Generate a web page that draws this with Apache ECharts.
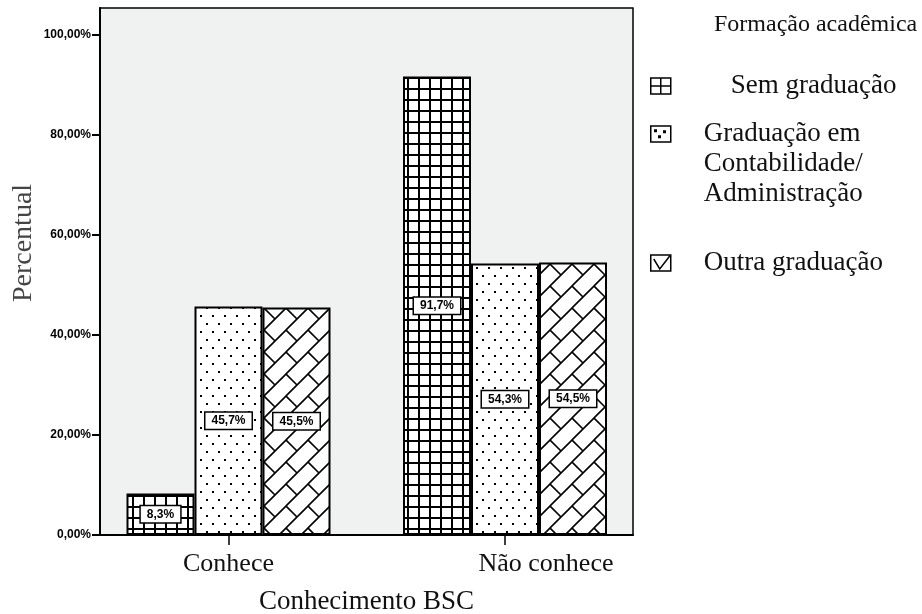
<!DOCTYPE html>
<html>
<head>
<meta charset="utf-8">
<script src="https://cdn.jsdelivr.net/npm/echarts@6/dist/echarts.min.js"></script>
<style>html,body{margin:0;padding:0;background:#fff;}#chart{width:922px;height:614px;}</style>
</head>
<body>
<div id="chart"></div>
<script>
const categories = ['Conhece', 'Não conhece'];
const seriesNames = ['Sem graduação', 'Graduação em\nContabilidade/\nAdministração', 'Outra graduação'];
const semGraduacao = [8.3, 91.7];
const graduacaoContAdm = [45.7, 54.3];
const outraGraduacao = [45.5, 54.5];
const yTicks = [0, 20, 40, 60, 80, 100];
const legendTitle = 'Formação acadêmica';
const xAxisName = 'Conhecimento BSC';
const yAxisName = 'Percentual';

function makeCanvas(w, h) {
  const c = document.createElement('canvas');
  c.width = w; c.height = h;
  const g = c.getContext('2d');
  g.fillStyle = '#fff'; g.fillRect(0, 0, w, h);
  return [c, g];
}
function gridPattern() {
  const [c, g] = makeCanvas(11, 11);
  g.fillStyle = '#000';
  g.fillRect(0, 0, 2, 11);
  g.fillRect(0, 0, 11, 2);
  return c;
}
function dotPattern() {
  const [c, g] = makeCanvas(12, 16);
  g.fillStyle = '#000';
  g.fillRect(2, 3, 2, 2);
  g.fillRect(8, 11, 2, 2);
  return c;
}
function brickPattern() {
  const s = 22;
  const [c, g] = makeCanvas(s, s);
  g.strokeStyle = '#000'; g.lineWidth = 1.6;
  g.beginPath();
  g.moveTo(0, s); g.lineTo(s, 0);
  g.moveTo(-2, 2); g.lineTo(2, -2);
  g.moveTo(s - 2, s + 2); g.lineTo(s + 2, s - 2);
  g.moveTo(0, 0); g.lineTo(s / 2, s / 2);
  g.stroke();
  return c;
}
const patterns = [gridPattern(), dotPattern(), brickPattern()];
const seriesData = [semGraduacao, graduacaoContAdm, outraGraduacao];

const fmtPct1 = v => v.toFixed(1).replace('.', ',') + '%';
const fmtPct2 = v => v.toFixed(2).replace('.', ',') + '%';

const serif = "'Liberation Serif', 'DejaVu Serif', serif";
const sans = "'Liberation Sans', Arial, sans-serif";

const chart = echarts.init(document.getElementById('chart'), null, {renderer: 'canvas'});

const series = seriesNames.map((name, i) => ({
  name: name,
  type: 'bar',
  xAxisIndex: 1,
  yAxisIndex: 1,
  barWidth: 68,
  barGap: '0%',
  data: seriesData[i],
  itemStyle: {
    color: {image: patterns[i], repeat: 'repeat'},
    borderColor: '#000',
    borderWidth: 2
  },
  label: {
    show: true,
    position: 'inside',
    formatter: p => fmtPct1(p.value),
    fontFamily: sans,
    fontWeight: 'bold',
    fontSize: 12,
    color: '#000',
    backgroundColor: '#fff',
    borderColor: '#000',
    borderWidth: 1.5,
    padding: [2, 6]
  },
  emphasis: {disabled: true}
}));

const iconPaths = [
  'path://M0,0H20V16H0Z M10,0V16 M0,8H20',
  'path://M0,0H20V16H0Z M4,4h1.5v1.5h-1.5z M13,5h1.5v1.5h-1.5z M8,10h1.5v1.5h-1.5z',
  'path://M0,0H20V16H0Z M3,4L9,14L19,1'
];
const legendTops = [71, 59, 248];
const legendPadLeft = [55, 28, 28];
const legendFormatters = [n => n, n => '\n\n' + n, n => n];
const legends = seriesNames.map((name, i) => ({
  orient: 'vertical',
  left: 650,
  top: legendTops[i],
  padding: 0,
  itemWidth: 20,
  itemHeight: 16,
  itemGap: 0,
  selectedMode: false,
  formatter: legendFormatters[i],
  data: [{
    name: name,
    icon: iconPaths[i],
    itemStyle: {color: '#fff', borderColor: '#000', borderWidth: 1.5, decal: 'none'}
  }],
  textStyle: {fontFamily: serif, fontSize: 27, lineHeight: 30, color: '#111', padding: [0, 0, 0, legendPadLeft[i]]}
}));

const categoryLabelPad = [0, 82];

const option = {
  animation: false,
  backgroundColor: '#fff',
  title: {
    text: legendTitle,
    left: 714,
    top: 13,
    padding: 0,
    textStyle: {fontFamily: serif, fontSize: 24, fontWeight: 'normal', color: '#111'}
  },
  legend: legends,
  grid: [
    {left: 100, right: 289, top: 8, bottom: 79, show: true, backgroundColor: '#f0f1f1', borderColor: '#000', borderWidth: 1.5, containLabel: false, outerBoundsMode: 'none'},
    {left: 228.5, right: 417, top: 8, bottom: 79, containLabel: false, outerBoundsMode: 'none'}
  ],
  xAxis: [
    {
      gridIndex: 0, type: 'value', min: 0, max: 1,
      axisLine: {show: true, lineStyle: {color: '#000', width: 2}},
      axisTick: {show: false}, axisLabel: {show: false}, splitLine: {show: false},
      name: xAxisName, nameLocation: 'middle', nameGap: 53, nameMoveOverlap: false,
      nameTextStyle: {fontFamily: serif, fontSize: 27, color: '#111'}
    },
    {
      gridIndex: 1, type: 'category',
      data: categories.map((c, i) => ({value: c, textStyle: {padding: [0, 0, 0, categoryLabelPad[i]]}})),
      boundaryGap: false,
      axisLine: {show: false},
      axisTick: {show: true, length: 10, lineStyle: {color: '#000', width: 1.5}},
      axisLabel: {fontFamily: serif, fontSize: 26, color: '#111', margin: 16},
      splitLine: {show: false}
    }
  ],
  yAxis: [
    {
      gridIndex: 0, type: 'value', min: 0, max: 105.4,
      axisLine: {show: true, lineStyle: {color: '#000', width: 2}},
      axisTick: {show: true, length: 8, customValues: yTicks, lineStyle: {color: '#000', width: 2}},
      axisLabel: {customValues: yTicks, formatter: v => fmtPct2(v), fontFamily: sans, fontWeight: 'bold', fontSize: 12, color: '#000', margin: 9},
      splitLine: {show: false},
      name: yAxisName, nameLocation: 'middle', nameGap: 62, nameRotate: 90, nameMoveOverlap: false,
      nameTextStyle: {fontFamily: serif, fontSize: 28, color: '#444', padding: [0, 0, 0, 57]}
    },
    {gridIndex: 1, type: 'value', min: 0, max: 105.4, show: false}
  ],
  series: series
};
chart.setOption(option);
</script>
</body>
</html>
